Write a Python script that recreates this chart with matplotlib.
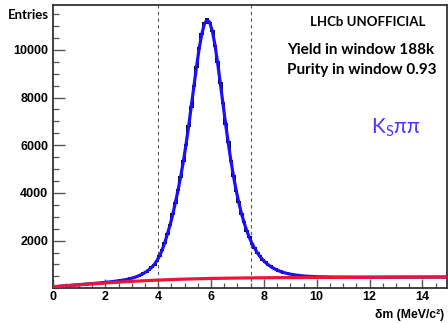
import numpy as np
import matplotlib
matplotlib.use("Agg")
import matplotlib.pyplot as plt
from matplotlib.ticker import MultipleLocator, FixedLocator

# ---------------- data ----------------
bin_lo, bin_hi, bin_w = 0.0, 15.0, 0.1

counts = [
    62, 78, 80, 95, 98, 112, 115, 131, 133, 149,
    151, 168, 170, 186, 189, 205, 208, 225, 228, 246,
    249, 270, 274, 297, 303, 328, 337, 366, 378, 414,
    432, 481, 512, 575, 622, 704, 776, 885, 990, 1162,
    1348, 1625, 1902, 2295, 2640, 3105, 3578, 4125, 4665, 5325,
    5990, 6800, 7585, 8480, 9270, 10075, 10650, 11120, 11290, 11130,
    10800, 10170, 9470, 8595, 7775, 6880, 6120, 5345, 4715, 4090,
    3610, 3125, 2770, 2400, 2145, 1865, 1690, 1475, 1350, 1192,
    1105, 987, 928, 838, 798, 728, 705, 652, 637, 598,
    588, 556, 553, 528, 529, 506, 509, 492, 497, 482,
    488, 474, 480, 468, 477, 463, 473, 458, 470, 461,
    472, 455, 469, 462, 474, 458, 466, 460, 478, 459,
    466, 452, 470, 461, 469, 476, 464, 455, 472, 462,
    481, 462, 468, 457, 472, 463, 478, 460, 470, 465,
    484, 465, 472, 462, 476, 470, 479, 465, 474, 468,
]

fit_total = [
    65, 74, 83, 91, 101, 109, 118, 127, 135, 146,
    155, 164, 173, 182, 192, 202, 211, 221, 231, 242,
    253, 265, 278, 292, 307, 323, 341, 360, 382, 409,
    438, 475, 518, 569, 628, 697, 782, 877, 997, 1152,
    1357, 1611, 1915, 2279, 2654, 3088, 3592, 4106, 4680, 5304,
    6006, 6779, 7602, 8455, 9288, 10051, 10668, 11090, 11257, 11149,
    10780, 10193, 9450, 8617, 7754, 6905, 6103, 5364, 4700, 4110,
    3593, 3143, 2753, 2417, 2129, 1883, 1672, 1491, 1337, 1206,
    1094, 999, 918, 849, 790, 739, 697, 661, 630, 605,
    582, 563, 548, 534, 523, 512, 504, 498, 492, 487,
    483, 480, 476, 473, 472, 470, 469, 468, 467, 466,
    465, 465, 465, 464, 465, 464, 464, 465, 464, 465,
    465, 465, 465, 465, 465, 465, 466, 466, 467, 467,
    467, 467, 468, 468, 468, 468, 469, 469, 469, 470,
    470, 470, 470, 471, 471, 471, 471, 472, 472, 472,
]

bkg_x = [0.0, 0.5, 1.0, 1.5, 2.0, 2.5, 3.0, 3.5, 4.0, 4.5, 5.0, 5.5, 6.0, 6.5,
         7.0, 7.5, 8.0, 8.5, 9.0, 9.5, 10.0, 10.5, 11.0, 11.5, 12.0, 12.5,
         13.0, 13.5, 14.0, 14.5, 15.0]
bkg_y = [60, 103, 145, 185, 222, 257, 290, 319, 345, 366, 385, 400, 412, 422,
         430, 436, 442, 446, 450, 453, 456, 458, 460, 462, 464, 465,
         467, 468, 470, 471, 472]

window = [4.0, 7.5]

xticks_major = [0, 2, 4, 6, 8, 10, 12, 14]
yticks_major = [2000, 4000, 6000, 8000, 10000]

# ---------------- figure ----------------
W, H = 448, 323
fig = plt.figure(figsize=(W / 100, H / 100), dpi=100)
x0, x1 = 52.5, 447.0
ytop, ybot = 4.5, 288.3
ax = fig.add_axes([x0 / W, (H - ybot) / H, (x1 - x0) / W, (ybot - ytop) / H])

edges = np.arange(len(counts) + 1) * bin_w + bin_lo
centers = edges[:-1] + bin_w / 2

ax.stairs(counts, edges, color="black", lw=1.4, zorder=2)
ax.plot(centers, fit_total, color="#1a10ff", lw=2.3, zorder=3, solid_capstyle="round")
ax.plot(bkg_x, bkg_y, color="#ee1438", lw=2.3, zorder=4)

for xv in window:
    ax.axvline(xv, color="#555555", lw=0.8, ls=(0, (3, 3)), zorder=1)

ax.set_xlim(0, 14.93)
ax.set_ylim(0, 11900)

ax.xaxis.set_major_locator(FixedLocator(xticks_major))
ax.xaxis.set_minor_locator(MultipleLocator(0.5))
ax.yaxis.set_major_locator(FixedLocator(yticks_major))
ax.yaxis.set_minor_locator(MultipleLocator(500))

ax.tick_params(axis="both", which="both", direction="in", color="#555555",
               top=False, right=False)
ax.tick_params(axis="y", which="major", length=8.5, width=1.0, pad=3)
ax.tick_params(axis="y", which="minor", length=4.5, width=0.9)
ax.tick_params(axis="x", which="major", length=6.5, width=1.0, pad=2)
ax.tick_params(axis="x", which="minor", length=3.5, width=0.9)

tickfont = dict(family=["Liberation Sans", "DejaVu Sans"], weight="bold", size=9)
ax.set_xticks(xticks_major)
ax.set_xticklabels([str(v) for v in xticks_major], fontdict=tickfont)
ax.set_yticks(yticks_major)
ax.set_yticklabels([str(v) for v in yticks_major], fontdict=tickfont)

for s in ax.spines.values():
    s.set_linewidth(1.3)
    s.set_color("#333333")

calib = ["Lato", "DejaVu Sans"]
fig.text(8 / W, 1 - 15 / H, "Entries", family=calib, weight="bold", size=9.5,
         ha="left", va="center")
fig.text(444 / W, 1 - 315 / H, "δm (MeV/c²)", family=["Liberation Sans", "DejaVu Sans"],
         weight="bold", size=8.8, ha="right", va="center")

fig.text(368 / W, 1 - 22 / H, "LHCb UNOFFICIAL", family=calib, weight="bold",
         size=9.5, ha="center", va="center")
fig.text(434 / W, 1 - 50 / H, "Yield in window 188k", family=calib, weight="bold",
         size=11, ha="right", va="center")
fig.text(436 / W, 1 - 70 / H, "Purity in window 0.93", family=calib, weight="bold",
         size=11, ha="right", va="center")
fig.text(371 / W, 1 - 128 / H, "K$_{\\mathregular{S}}$ππ", family=calib,
         size=15, color="#4a36ff", ha="left", va="center")

fig.savefig("out.png", dpi=100)
